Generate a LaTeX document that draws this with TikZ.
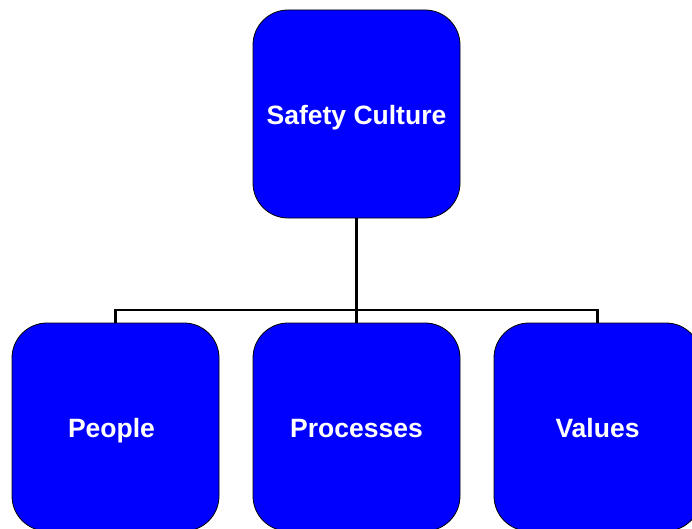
\documentclass[tikz,border=0pt]{standalone}
\usepackage{fontspec}
\setmainfont{Liberation Sans}
\definecolor{boxblue}{RGB}{0,0,255}
\begin{document}
\begin{tikzpicture}[x=1pt,y=-1pt,
  orgbox/.style={draw=black, line width=0.8pt, fill=boxblue, rounded corners=35pt,
    minimum width=207pt, minimum height=208pt, inner sep=0pt,
    text height=26pt, text depth=5pt,
    text=white, font=\fontsize{26.5}{30}\selectfont\bfseries},
  link/.style={draw=black, line width=2.5pt}]
\useasboundingbox (0,0) rectangle (692,529);
\node[orgbox] (top) at (356.5,114) {Safety Culture};
\node[orgbox] (people) at (115.5,427) {People\hspace*{8pt}};
\node[orgbox] (proc) at (356.5,427) {Processes};
\node[orgbox] (vals) at (597.5,427) {Values};
\coordinate (bar) at (356.5,310);
\draw[link] (top.south) -- (bar);
\draw[link] (people.north) |- (bar) -| (vals.north);
\draw[link] (bar) -- (proc.north);
\end{tikzpicture}
\end{document}
